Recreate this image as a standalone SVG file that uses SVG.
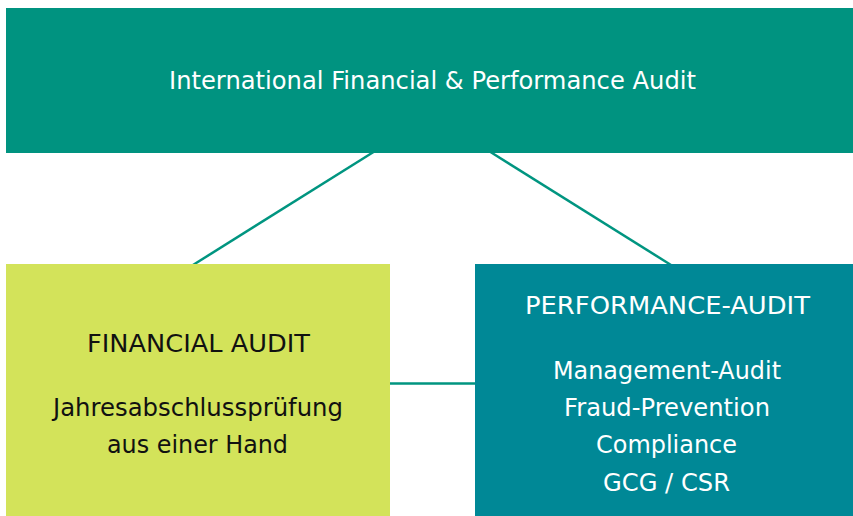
<svg xmlns="http://www.w3.org/2000/svg" width="853" height="516" viewBox="0 0 853 516">
  <style>
    .t { font-family: "DejaVu Sans", "Liberation Sans", sans-serif; font-size: 25px; text-anchor: middle; }
    .w { fill: #ffffff; }
    .k { fill: #111111; }
    .conn { stroke: #009580; stroke-width: 2.5; fill: none; }
  </style>
  <rect width="853" height="516" fill="#ffffff"/>
  <g id="connectors">
    <line class="conn" x1="373.5" y1="152" x2="193" y2="265"/>
    <line class="conn" x1="490.5" y1="152" x2="671" y2="265"/>
    <line class="conn" x1="389" y1="383.5" x2="476" y2="383.5"/>
  </g>
  <g id="node-top">
    <rect x="6" y="8" width="853" height="145" fill="#009380"/>
    <text class="t w" x="432.5" y="89" textLength="527" lengthAdjust="spacingAndGlyphs">International Financial &amp; Performance Audit</text>
  </g>
  <g id="node-financial">
    <rect x="6" y="264" width="384" height="252" fill="#d3e35a"/>
    <text class="t k" x="198.5" y="352" textLength="223" lengthAdjust="spacingAndGlyphs">FINANCIAL AUDIT</text>
    <text class="t k" x="198" y="416" textLength="290" lengthAdjust="spacingAndGlyphs">Jahresabschlussprüfung</text>
    <text class="t k" x="197.5" y="453" textLength="181" lengthAdjust="spacingAndGlyphs">aus einer Hand</text>
  </g>
  <g id="node-performance">
    <rect x="475" y="264" width="384" height="252" fill="#008896"/>
    <text class="t w" x="667.5" y="313.5" textLength="285" lengthAdjust="spacingAndGlyphs">PERFORMANCE-AUDIT</text>
    <text class="t w" x="667" y="378.5" textLength="228" lengthAdjust="spacingAndGlyphs">Management-Audit</text>
    <text class="t w" x="667" y="416" textLength="206" lengthAdjust="spacingAndGlyphs">Fraud-Prevention</text>
    <text class="t w" x="666.5" y="453" textLength="141" lengthAdjust="spacingAndGlyphs">Compliance</text>
    <text class="t w" x="666.5" y="490.5" textLength="127" lengthAdjust="spacingAndGlyphs">GCG / CSR</text>
  </g>
</svg>
